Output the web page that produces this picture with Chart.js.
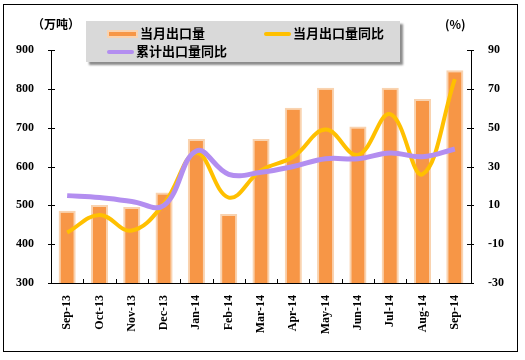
<!DOCTYPE html>
<html>
<head>
<meta charset="utf-8">
<script src="https://cdn.jsdelivr.net/npm/chart.js@4"></script>
<style>
    body { margin: 0; background: #fff; }
    #wrap { position: relative; width: 525px; height: 360px; }
    #legend {
        position: absolute; left: 86px; top: 21px; width: 314px; height: 41px;
        background: #d9d9d9; box-shadow: 3px 3px 2px #8c8c8c;
        font-family: "Noto Sans CJK SC", sans-serif; font-weight: bold; font-size: 13px; color: #000;
    }
    .item { position: absolute; height: 18px; line-height: 18px; white-space: nowrap; }
    .icon { display: inline-block; width: 27px; vertical-align: middle; margin-right: 2px; }
    .unit { position: absolute; font-family: "Noto Sans CJK SC", sans-serif; font-weight: bold; font-size: 12px; }
</style>
</head>
<body>
<div id="wrap">
    <canvas id="myChart" width="525" height="360"></canvas>
    <div class="unit" style="left:32px; top:15px;">（万吨）</div>
    <div class="unit" style="left:445px; top:15px;">(%)</div>
    <div id="legend">
        <div class="item" style="left:21px; top:3px;"><span class="icon" style="height:4px; background:#f79646; border:2px solid #f9d3b0;"></span>当月出口量</div>
        <div class="item" style="left:178px; top:3px;"><span class="icon" style="height:4px; background:#ffc000; border-radius:2px;"></span>当月出口量同比</div>
        <div class="item" style="left:21px; top:21px;"><span class="icon" style="height:4px; background:#b38ef0; border-radius:2px;"></span>累计出口量同比</div>
    </div>
</div>
<script>
// data
var months = ["Sep-13", "Oct-13", "Nov-13", "Dec-13", "Jan-14", "Feb-14", "Mar-14",
              "Apr-14", "May-14", "Jun-14", "Jul-14", "Aug-14", "Sep-14"];
var monthlyExport = [486, 501, 496, 533, 671, 478, 671, 751, 803, 703, 803, 774, 848];   // 万吨
var monthlyYoY = [-4, 5, -3, 11, 37, 14, 28, 35, 49, 36, 57, 26, 75];                    // %
var cumulativeYoY = [15, 14, 12, 10, 38, 26, 27, 30, 34, 34, 37, 35, 39];                // %

var leftTicks = [300, 400, 500, 600, 700, 800, 900];
var rightTicks = [-30, -10, 10, 30, 50, 70, 90];

var tickFont = { family: "Liberation Serif", size: 12, weight: "bold" };

// white page with thin frame
const framePlugin = {
    id: 'frame',
    beforeDraw: function(chart) {
        const ctx = chart.ctx;
        ctx.save();
        ctx.fillStyle = '#fff';
        ctx.fillRect(0, 0, chart.width, chart.height);
        ctx.strokeStyle = '#000';
        ctx.lineWidth = 1;
        ctx.strokeRect(3.5, 4.5, 514, 347);
        ctx.restore();
    }
};

// small ticks that cross the axis lines
const crossTicks = {
    id: 'crossTicks',
    afterDraw: function(chart) {
        const ctx = chart.ctx;
        const a = chart.chartArea;
        ctx.save();
        ctx.strokeStyle = '#000';
        ctx.lineWidth = 1;
        ctx.beginPath();
        leftTicks.forEach(function(v) {
            let y = Math.round(chart.scales.y.getPixelForValue(v)) + 0.5;
            ctx.moveTo(a.left - 3, y); ctx.lineTo(a.left + 4, y);
        });
        rightTicks.forEach(function(v) {
            let y = Math.round(chart.scales.y2.getPixelForValue(v)) + 0.5;
            ctx.moveTo(a.right - 4, y); ctx.lineTo(a.right + 3, y);
        });
        const xs = chart.scales.x;
        for (let i = 1; i < months.length; i++) {
            let x = Math.round((xs.getPixelForValue(i - 1) + xs.getPixelForValue(i)) / 2) + 0.5;
            ctx.moveTo(x, a.bottom); ctx.lineTo(x, a.bottom - 4);
        }
        ctx.stroke();
        ctx.restore();
    }
};

const ctx = document.getElementById('myChart').getContext('2d');
const chart = new Chart(ctx, {
    data: {
        labels: months,
        datasets: [
            {
                type: 'line',
                label: '累计出口量同比',
                data: cumulativeYoY,
                yAxisID: 'y2',
                borderColor: '#b38ef0',
                borderWidth: 5,
                pointRadius: 0,
                tension: 0.4,
                order: 1
            },
            {
                type: 'line',
                label: '当月出口量同比',
                data: monthlyYoY,
                yAxisID: 'y2',
                borderColor: '#ffc000',
                borderWidth: 4,
                pointRadius: 0,
                tension: 0.4,
                order: 2
            },
            {
                type: 'bar',
                label: '当月出口量',
                data: monthlyExport,
                yAxisID: 'y',
                backgroundColor: '#f79646',
                borderColor: '#f9d3b0',
                borderWidth: 2,
                borderSkipped: false,
                barPercentage: 0.53,
                categoryPercentage: 1,
                order: 3
            }
        ]
    },
    options: {
        responsive: false,
        animation: false,
        layout: { padding: { top: 50, left: 0, right: 0, bottom: 0 }, autoPadding: false },
        plugins: { legend: { display: false }, tooltip: { enabled: false } },
        scales: {
            x: {
                offset: true,
                grid: { display: false },
                border: { color: '#000', width: 1 },
                ticks: { color: '#000', font: tickFont, maxRotation: 90, minRotation: 90, padding: 4 },
                afterFit: function(s) { s.height = 77; }
            },
            y: {
                position: 'left',
                min: 300, max: 900,
                afterBuildTicks: function(s) { s.ticks = leftTicks.map(v => ({ value: v })); },
                grid: { display: false },
                border: { color: '#000', width: 1 },
                ticks: { color: '#000', font: tickFont, padding: 9 },
                afterFit: function(s) { s.width = 51; }
            },
            y2: {
                position: 'right',
                min: -30, max: 90,
                afterBuildTicks: function(s) { s.ticks = rightTicks.map(v => ({ value: v })); },
                grid: { display: false },
                border: { color: '#000', width: 1 },
                ticks: { color: '#000', font: tickFont, padding: 9 },
                afterFit: function(s) { s.width = 54; }
            }
        }
    },
    plugins: [framePlugin, crossTicks]
});
</script>
</body>
</html>
